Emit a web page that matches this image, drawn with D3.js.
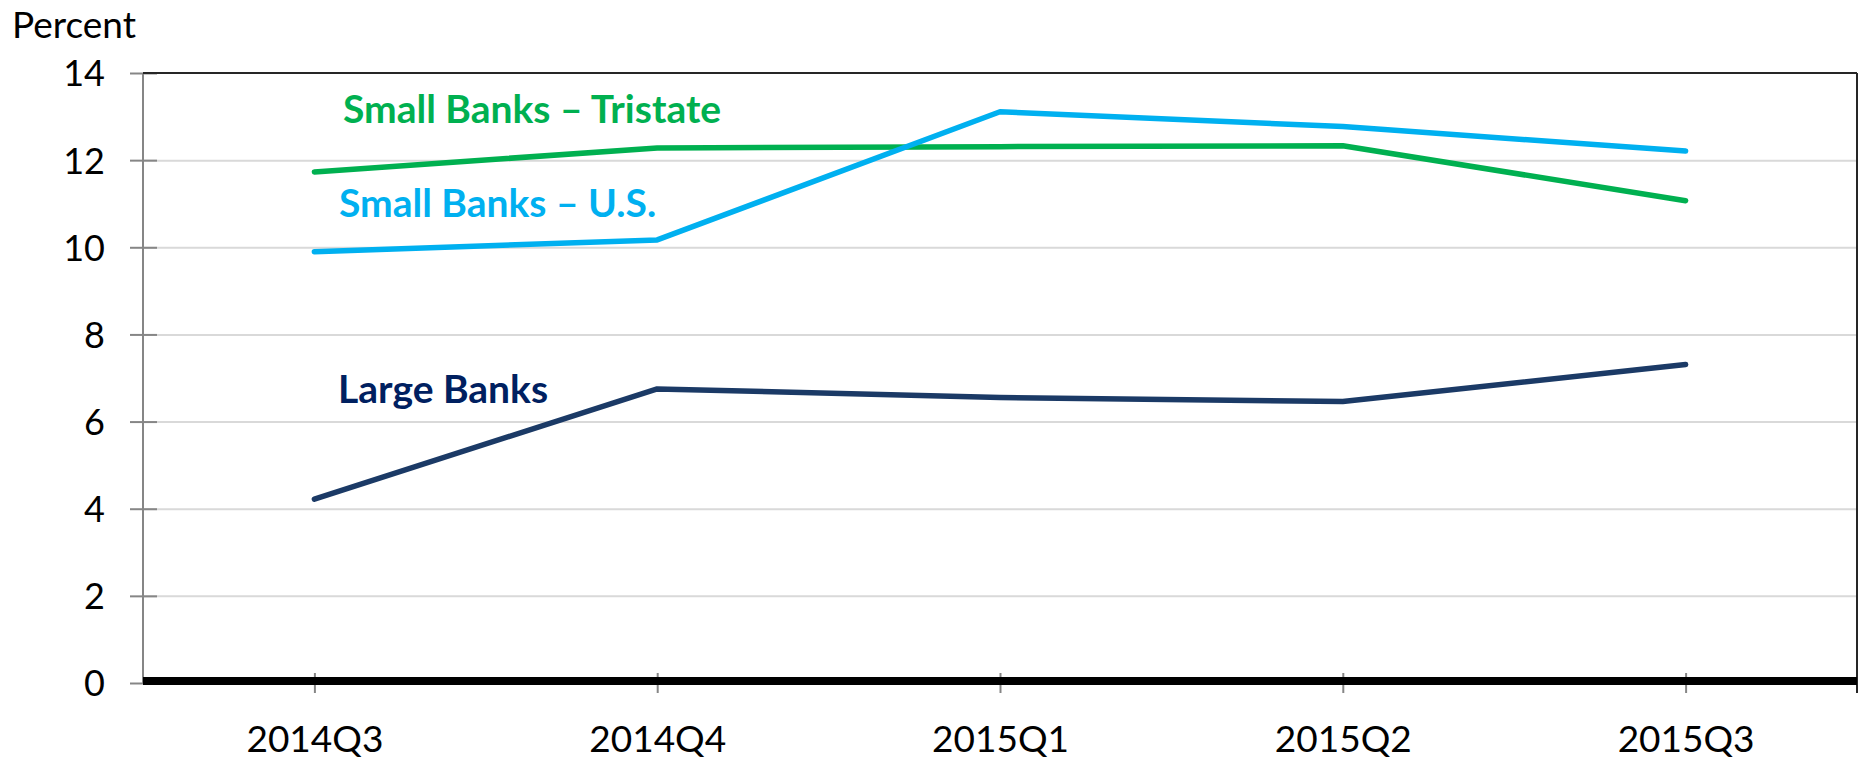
<!DOCTYPE html>
<html>
<head>
<meta charset="utf-8">
<script src="https://cdnjs.cloudflare.com/ajax/libs/d3/7.8.5/d3.min.js"></script>
<style>
  body { margin: 0; background: #fff; }
  svg { display: block; font-family: Lato, 'Open Sans', sans-serif; }
</style>
</head>
<body>
<script>
let quarters = ['2014Q3', '2014Q4', '2015Q1', '2015Q2', '2015Q3'];
let largeBanks = [4.22, 6.75, 6.55, 6.46, 7.31];
let smallUS = [9.90, 10.17, 13.11, 12.77, 12.21];
let smallTristate = [11.73, 12.28, 12.31, 12.33, 11.07];
let yTicks = [0, 2, 4, 6, 8, 10, 12, 14];

let width = 1866;
let height = 759;
let plotLeft = 143, plotRight = 1857, plotTop = 73, plotBottom = 683;

let svg = d3.select('body')
            .append('svg')
            .attr('width', width)
            .attr('height', height)

let xScale = d3.scalePoint()
                .domain(quarters)
                .range([plotLeft, plotRight])
                .padding(0.5)

let yScale = d3.scaleLinear()
                .domain([0, 14])
                .range([plotBottom, plotTop])

// gridlines
svg.append('g')
    .attr('transform', 'translate(' + plotLeft + ',0)')
    .call(d3.axisLeft(yScale).tickValues(yTicks.slice(1, -1)).tickSize(-(plotRight - plotLeft)).tickFormat(''))
    .call(g => g.select('.domain').remove())
    .selectAll('line')
    .attr('stroke', '#d9d9d9')
    .attr('stroke-width', 2)

// y axis
let yAxis = svg.append('g')
    .attr('transform', 'translate(' + plotLeft + ',0)')
    .call(d3.axisLeft(yScale).tickValues(yTicks).tickSize(13).tickPadding(0))
yAxis.select('.domain').remove()
yAxis.selectAll('line').attr('x1', 14).attr('x2', -13).attr('stroke', '#868686').attr('stroke-width', 2)
yAxis.selectAll('text')
    .attr('x', -38)
    .attr('dy', '0.36em')
    .style('font-size', '36px')
    .style('font-family', 'Lato')
    .attr('fill', '#000')
svg.append('line')
    .attr('x1', plotLeft).attr('x2', plotLeft)
    .attr('y1', plotTop).attr('y2', plotBottom)
    .attr('stroke', '#868686').attr('stroke-width', 2)

// x axis
let xAxis = svg.append('g')
    .attr('transform', 'translate(0,' + plotBottom + ')')
    .call(d3.axisBottom(xScale).tickSize(10))
xAxis.select('.domain').remove()
xAxis.selectAll('line').attr('y1', -10).attr('y2', 10).attr('stroke', '#868686').attr('stroke-width', 2)
xAxis.selectAll('text')
    .attr('y', 69)
    .attr('dy', 0)
    .style('font-size', '37px')
    .style('font-family', 'Lato')
    .attr('fill', '#000')

// frame
svg.append('line')
    .attr('x1', plotLeft).attr('x2', plotRight)
    .attr('y1', plotTop).attr('y2', plotTop)
    .attr('stroke', '#262626').attr('stroke-width', 2)
svg.append('line')
    .attr('x1', plotRight).attr('x2', plotRight)
    .attr('y1', plotTop).attr('y2', plotBottom + 10)
    .attr('stroke', '#262626').attr('stroke-width', 2)
svg.append('line')
    .attr('x1', plotLeft).attr('x2', plotRight)
    .attr('y1', yScale(0) - 2).attr('y2', yScale(0) - 2)
    .attr('stroke', '#000').attr('stroke-width', 8)

// lines
let line = d3.line()
    .x((d, i) => xScale(quarters[i]))
    .y(d => yScale(d))

let series = [
    { values: smallTristate, color: '#00b050' },
    { values: smallUS, color: '#00b0f0' },
    { values: largeBanks, color: '#1b3a66' }
]

svg.selectAll('.series')
    .data(series)
    .enter()
    .append('path')
    .attr('class', 'series')
    .attr('d', d => line(d.values))
    .attr('fill', 'none')
    .attr('stroke', d => d.color)
    .attr('stroke-width', 5.5)
    .attr('stroke-linecap', 'round')
    .attr('stroke-linejoin', 'round')

// labels
let labels = [
    { text: 'Small Banks – Tristate', x: 343, y: 123, color: '#00b050' },
    { text: 'Small Banks – U.S.', x: 339, y: 217, color: '#00b0f0' },
    { text: 'Large Banks', x: 338, y: 403, color: '#002060' }
]
svg.selectAll('.lbl')
    .data(labels)
    .enter()
    .append('text')
    .attr('class', 'lbl')
    .attr('x', d => d.x)
    .attr('y', d => d.y)
    .attr('fill', d => d.color)
    .style('font-size', '39px')
    .style('font-weight', 'bold')
    .text(d => d.text)

svg.append('text')
    .attr('x', 12)
    .attr('y', 38)
    .style('font-size', '37px')
    .attr('fill', '#000')
    .text('Percent')
</script>
</body>
</html>
